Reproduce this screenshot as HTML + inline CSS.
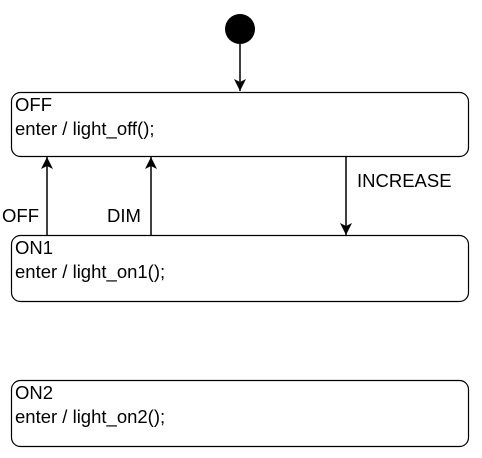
<!DOCTYPE html>
<html><head><style>
html,body{margin:0;padding:0;background:#fff;}
</style></head><body>
<svg width="482" height="458" xmlns="http://www.w3.org/2000/svg" style="display:block">
<defs><marker id="a" markerWidth="14" markerHeight="14" refX="12" refY="6" orient="auto" markerUnits="userSpaceOnUse"><path d="M0,0 L12,6 L0,12 L3,6 Z" fill="#000"/></marker></defs>
<circle cx="240" cy="29" r="15" fill="#000"/>
<line x1="240" y1="44" x2="240" y2="91" stroke="#000" stroke-width="1.5" marker-end="url(#a)"/>
<rect x="11.5" y="92.5" width="457" height="64" rx="9" fill="#fff" stroke="#000" stroke-width="1.2"/>
<rect x="11.5" y="235.5" width="457" height="66" rx="9" fill="#fff" stroke="#000" stroke-width="1.2"/>
<rect x="11.5" y="380.5" width="457" height="66" rx="9" fill="#fff" stroke="#000" stroke-width="1.2"/>
<line x1="346" y1="157" x2="346" y2="235" stroke="#000" stroke-width="1.5" marker-end="url(#a)"/>
<line x1="47" y1="235" x2="47" y2="157" stroke="#000" stroke-width="1.5" marker-end="url(#a)"/>
<line x1="151" y1="235" x2="151" y2="157" stroke="#000" stroke-width="1.5" marker-end="url(#a)"/>
<g font-family="'Liberation Sans', sans-serif" font-size="18.5" fill="#000">
<text x="15" y="111">OFF</text><text x="15" y="135">enter / light_off();</text>
<text x="15" y="254">ON1</text><text x="15" y="278">enter / light_on1();</text>
<text x="15" y="399">ON2</text><text x="15" y="423">enter / light_on2();</text>
<text x="357" y="187">INCREASE</text>
<text x="2" y="222">OFF</text>
<text x="107" y="222">DIM</text>
</g>
</svg>
</body></html>
